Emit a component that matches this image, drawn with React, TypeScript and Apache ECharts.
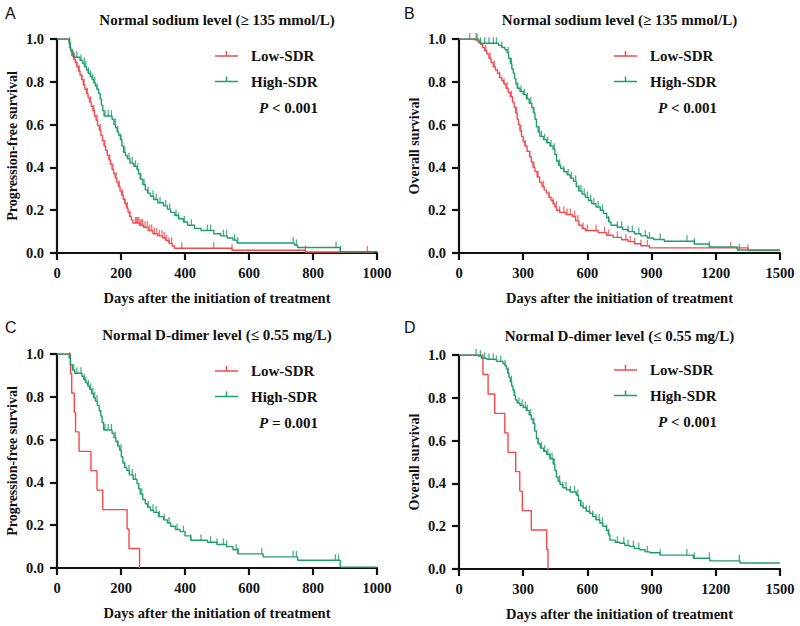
import React, { useEffect, useRef } from "react";
import * as echarts from "echarts";

// ---------- data ----------
const titles = [
  "Normal sodium level (≥ 135 mmol/L)",
  "Normal sodium level (≥ 135 mmol/L)",
  "Normal D-dimer level (≤ 0.55 mg/L)",
  "Normal D-dimer level (≤ 0.55 mg/L)",
];
const panelLetters = ["A", "B", "C", "D"];
const yNames = ["Progression-free survival", "Overall survival", "Progression-free survival", "Overall survival"];
const xName = "Days after the initiation of treatment";
const xMaxes = [1000, 1500, 1000, 1500];
const xIntervals = [200, 300, 200, 300];
const pTexts = ["< 0.001", "< 0.001", "= 0.001", "< 0.001"];
const groupNames = ["Low-SDR", "High-SDR"];

const aLow: number[][] = [
  [0, 1], [38, 0.99], [40, 0.96], [43, 0.94], [47, 0.92], [52, 0.905], [57, 0.89], [62, 0.87], [67, 0.85],
  [72, 0.83], [77, 0.81], [82, 0.785], [87, 0.765], [92, 0.745], [97, 0.725], [102, 0.705], [107, 0.685],
  [112, 0.665], [117, 0.64], [122, 0.62], [127, 0.595], [132, 0.575], [137, 0.55], [142, 0.525], [147, 0.5],
  [152, 0.48], [157, 0.455], [162, 0.435], [167, 0.415], [172, 0.39], [177, 0.37], [182, 0.35], [187, 0.33],
  [192, 0.31], [197, 0.29], [202, 0.27], [207, 0.25], [212, 0.23], [217, 0.21], [222, 0.19], [227, 0.17],
  [232, 0.155], [237, 0.14], [258, 0.13], [270, 0.12], [285, 0.105], [300, 0.09], [315, 0.08], [330, 0.07],
  [340, 0.058], [350, 0.045], [360, 0.033], [367, 0.022], [547, 0.013], [776, 0.005], [990, 0.005],
];
const aHigh: number[][] = [
  [0, 1], [38, 0.98], [42, 0.95], [48, 0.93], [52, 0.915], [72, 0.9], [80, 0.885], [86, 0.87], [92, 0.855],
  [98, 0.84], [104, 0.825], [110, 0.81], [115, 0.795], [120, 0.78], [125, 0.765], [130, 0.745], [135, 0.72],
  [139, 0.69], [143, 0.665], [147, 0.64], [172, 0.625], [178, 0.6], [183, 0.585], [188, 0.565], [193, 0.55],
  [198, 0.53], [203, 0.5], [208, 0.47], [214, 0.455], [220, 0.44], [228, 0.42], [240, 0.405], [250, 0.39],
  [255, 0.37], [260, 0.345], [268, 0.32], [276, 0.295], [283, 0.28], [292, 0.265], [302, 0.25], [315, 0.235],
  [333, 0.22], [345, 0.205], [355, 0.19], [368, 0.175], [380, 0.16], [395, 0.145], [408, 0.13], [430, 0.115],
  [450, 0.105], [490, 0.09], [512, 0.08], [532, 0.07], [550, 0.06], [563, 0.047], [742, 0.036], [752, 0.026],
  [885, 0.006], [1000, 0.006],
];
const aLowCens = [40, 47, 55, 62, 70, 78, 85, 95, 105, 115, 125, 135, 150, 165, 175, 185, 195, 205, 212, 220, 228,
  245, 248, 252, 256, 260, 264, 268, 275, 282, 290, 296, 305, 312, 320, 328, 335, 342, 350, 358, 390, 490, 547, 776, 970];
const aHighCens = [40, 52, 62, 75, 85, 90, 98, 105, 112, 118, 125, 150, 160, 170, 182, 190, 200, 212, 225, 235, 245,
  252, 262, 272, 285, 300, 310, 322, 340, 352, 372, 380, 398, 420, 470, 480, 520, 530, 555, 565, 738, 748, 872, 886];

const bLow: number[][] = [
  [0, 1], [75, 0.995], [90, 0.985], [100, 0.975], [110, 0.96], [120, 0.945], [130, 0.93], [140, 0.91], [150, 0.89],
  [160, 0.87], [170, 0.855], [180, 0.84], [190, 0.82], [200, 0.805], [210, 0.79], [220, 0.77], [230, 0.75],
  [240, 0.73], [250, 0.705], [258, 0.68], [265, 0.655], [272, 0.625], [278, 0.6], [285, 0.57], [292, 0.545],
  [300, 0.52], [308, 0.5], [318, 0.475], [330, 0.45], [338, 0.425], [346, 0.4], [355, 0.38], [365, 0.355],
  [377, 0.33], [388, 0.31], [398, 0.295], [408, 0.28], [420, 0.26], [430, 0.245], [440, 0.23], [448, 0.215],
  [456, 0.2], [470, 0.19], [500, 0.18], [530, 0.17], [545, 0.15], [560, 0.13], [575, 0.115], [590, 0.105],
  [650, 0.095], [690, 0.083], [720, 0.073], [760, 0.062], [790, 0.053], [820, 0.043], [850, 0.034], [890, 0.024],
  [1350, 0.012], [1500, 0.012],
];
const bHigh: number[][] = [
  [0, 1], [90, 0.99], [100, 0.98], [185, 0.97], [200, 0.96], [215, 0.95], [225, 0.935], [232, 0.91], [240, 0.885],
  [247, 0.86], [254, 0.84], [260, 0.815], [266, 0.79], [272, 0.77], [285, 0.755], [300, 0.74], [315, 0.72],
  [328, 0.7], [340, 0.68], [348, 0.655], [355, 0.625], [362, 0.59], [370, 0.565], [378, 0.545], [395, 0.53],
  [410, 0.515], [425, 0.5], [440, 0.485], [448, 0.46], [456, 0.43], [465, 0.41], [475, 0.395], [490, 0.38],
  [505, 0.365], [520, 0.35], [535, 0.335], [548, 0.31], [560, 0.29], [575, 0.275], [590, 0.26], [605, 0.245],
  [620, 0.23], [640, 0.215], [660, 0.2], [675, 0.185], [690, 0.165], [700, 0.145], [710, 0.13], [740, 0.12],
  [765, 0.11], [790, 0.1], [820, 0.09], [850, 0.08], [880, 0.07], [910, 0.063], [960, 0.055], [1100, 0.042],
  [1170, 0.028], [1300, 0.014], [1500, 0.014],
];
const bLowCens = [50, 85, 100, 125, 145, 165, 190, 210, 225, 245, 270, 290, 310, 330, 350, 370, 395, 420, 440, 455,
  470, 490, 505, 520, 540, 555, 580, 600, 640, 680, 700, 740, 780, 800, 820, 850, 880, 1270, 1350];
const bHighCens = [80, 100, 120, 140, 160, 175, 200, 230, 245, 275, 290, 305, 320, 335, 350, 375, 385, 400, 415, 430,
  445, 470, 490, 510, 525, 545, 560, 570, 585, 600, 615, 630, 650, 670, 700, 740, 760, 790, 810, 840, 870, 890, 940,
  1065, 1100, 1170, 1310];

const cLow: number[][] = [
  [0, 1], [42, 0.909], [46, 0.818], [54, 0.727], [58, 0.636], [69, 0.545], [106, 0.455], [125, 0.364],
  [143, 0.273], [219, 0.182], [225, 0.091], [258, 0],
];
const cHigh: number[][] = [
  [0, 1], [38, 0.98], [42, 0.95], [48, 0.925], [55, 0.91], [78, 0.895], [84, 0.88], [90, 0.865], [96, 0.85],
  [102, 0.835], [108, 0.815], [114, 0.795], [120, 0.78], [126, 0.76], [132, 0.735], [137, 0.71], [141, 0.68],
  [146, 0.645], [172, 0.63], [178, 0.61], [184, 0.59], [190, 0.57], [196, 0.55], [201, 0.52], [206, 0.49],
  [211, 0.47], [218, 0.455], [226, 0.435], [238, 0.415], [250, 0.395], [255, 0.37], [260, 0.345], [268, 0.32],
  [276, 0.3], [283, 0.285], [292, 0.27], [302, 0.26], [318, 0.24], [333, 0.225], [345, 0.21], [355, 0.195],
  [370, 0.18], [385, 0.17], [400, 0.15], [418, 0.13], [470, 0.12], [500, 0.11], [530, 0.1], [550, 0.085],
  [565, 0.066], [644, 0.052], [752, 0.036], [885, 0.004], [1000, 0.004],
];
const cLowCens: number[] = [];
const cHighCens = [40, 52, 62, 75, 85, 90, 98, 105, 112, 118, 125, 150, 160, 170, 182, 190, 200, 212, 225, 235, 245,
  255, 265, 285, 300, 310, 320, 335, 350, 375, 395, 418, 450, 480, 500, 520, 530, 560, 566, 640, 738, 748, 870, 880];

const dLow: number[][] = [
  [0, 1], [112, 0.909], [136, 0.818], [167, 0.727], [214, 0.636], [229, 0.545], [265, 0.455], [284, 0.364],
  [296, 0.273], [338, 0.182], [410, 0.091], [416, 0],
];
const dHigh: number[][] = [
  [0, 1], [90, 0.995], [105, 0.985], [130, 0.98], [175, 0.97], [205, 0.96], [215, 0.95], [222, 0.935],
  [228, 0.915], [234, 0.895], [240, 0.875], [246, 0.855], [252, 0.835], [258, 0.81], [264, 0.79], [272, 0.775],
  [285, 0.765], [300, 0.755], [315, 0.74], [328, 0.72], [338, 0.7], [346, 0.68], [354, 0.645], [362, 0.61],
  [370, 0.585], [380, 0.565], [395, 0.55], [410, 0.535], [425, 0.515], [440, 0.49], [448, 0.46], [455, 0.43],
  [463, 0.41], [472, 0.395], [485, 0.38], [502, 0.37], [520, 0.36], [548, 0.345], [558, 0.32], [568, 0.295],
  [580, 0.285], [595, 0.27], [611, 0.26], [625, 0.245], [640, 0.23], [658, 0.215], [672, 0.2], [689, 0.18],
  [698, 0.16], [705, 0.135], [730, 0.125], [752, 0.12], [775, 0.11], [798, 0.105], [820, 0.095], [845, 0.09],
  [870, 0.08], [892, 0.076], [939, 0.065], [1095, 0.05], [1172, 0.038], [1313, 0.028], [1500, 0.028],
];
const dLowCens: number[] = [];
const dHighCens = [80, 100, 120, 140, 160, 175, 195, 215, 230, 245, 260, 280, 295, 310, 320, 335, 350, 370, 385,
  400, 415, 425, 435, 445, 470, 485, 500, 520, 540, 555, 570, 580, 595, 610, 625, 640, 655, 670, 690, 700, 740, 770,
  790, 815, 840, 880, 940, 1065, 1100, 1170, 1310];

const lowCurves = [aLow, bLow, cLow, dLow];
const highCurves = [aHigh, bHigh, cHigh, dHigh];
const lowCensors = [aLowCens, bLowCens, cLowCens, dLowCens];
const highCensors = [aHighCens, bHighCens, cHighCens, dHighCens];

// ---------- layout / style ----------
const RED = "#F5484C";
const GREEN = "#1F9E6C";
const SERIF = '"Times New Roman", "Liberation Serif", serif';
const SANS = '"Liberation Sans", Arial, sans-serif';
const grids = [
  { left: 57, top: 39, width: 320, height: 214 },
  { left: 459, top: 39, width: 321, height: 214 },
  { left: 57, top: 354, width: 320, height: 214 },
  { left: 459, top: 355, width: 321, height: 214 },
];
const legendPos = [
  { x: 215, y: 56 },
  { x: 614, y: 56 },
  { x: 215, y: 371 },
  { x: 614, y: 370 },
];
const letterPos = [
  { x: 5, y: 5 },
  { x: 404, y: 5 },
  { x: 5, y: 319 },
  { x: 404, y: 319 },
];

function stepAt(curve: number[][], t: number): number {
  let v = curve[0][1];
  for (const p of curve) {
    if (p[0] <= t) v = p[1];
    else break;
  }
  return v;
}

function buildOption() {
  const xAxis: any[] = [];
  const yAxis: any[] = [];
  const series: any[] = [];
  const graphic: any[] = [];

  grids.forEach((g, i) => {
    xAxis.push({
      gridIndex: i,
      type: "value",
      min: 0,
      max: xMaxes[i],
      interval: xIntervals[i],
      axisLine: { lineStyle: { color: "#111", width: 2.2 } },
      axisTick: { length: 7, lineStyle: { color: "#111", width: 2.2 } },
      splitLine: { show: false },
      axisLabel: {
        color: "#111", fontFamily: SERIF, fontWeight: "bold", fontSize: 14.5, margin: 12,
        formatter: (v: number) => String(v),
      },
      name: xName,
      nameLocation: "middle",
      nameGap: 37,
      nameTextStyle: { color: "#111", fontFamily: SERIF, fontWeight: "bold", fontSize: 14.5 },
    });
    yAxis.push({
      gridIndex: i,
      type: "value",
      min: 0,
      max: 1,
      interval: 0.2,
      axisLine: { show: true, lineStyle: { color: "#111", width: 2.2 } },
      axisTick: { show: true, length: 7, lineStyle: { color: "#111", width: 2.2 } },
      splitLine: { show: false },
      axisLabel: {
        color: "#111", fontFamily: SERIF, fontWeight: "bold", fontSize: 14.5, margin: 13,
        formatter: (v: number) => v.toFixed(1),
      },
      name: yNames[i],
      nameLocation: "middle",
      nameGap: 38,
      nameTextStyle: { color: "#111", fontFamily: SERIF, fontWeight: "bold", fontSize: 14 },
    });

    const curves = [lowCurves[i], highCurves[i]];
    const cens = [lowCensors[i], highCensors[i]];
    const colors = [RED, GREEN];
    curves.forEach((c, k) => {
      series.push({
        type: "line",
        xAxisIndex: i,
        yAxisIndex: i,
        step: "end",
        symbol: "none",
        data: c,
        lineStyle: { color: colors[k], width: 1.4 },
        z: 3 + k,
      });
      series.push({
        type: "scatter",
        xAxisIndex: i,
        yAxisIndex: i,
        symbol: "rect",
        symbolSize: [1.3, 6],
        symbolOffset: [0, -3],
        itemStyle: { color: colors[k] },
        data: cens[k].map((t) => [t, stepAt(c, t)]),
        z: 3 + k,
      });
    });

    // title
    graphic.push({
      type: "text",
      x: g.left + g.width / 2,
      y: g.top - 19,
      style: {
        text: titles[i],
        font: `bold 15px ${SERIF}`,
        fill: "#111",
        textAlign: "center",
        textVerticalAlign: "middle",
      },
    });
    // panel letter
    graphic.push({
      type: "text",
      x: letterPos[i].x,
      y: letterPos[i].y,
      style: { text: panelLetters[i], font: `16px ${SANS}`, fill: "#111" },
    });
    // legend
    const lp = legendPos[i];
    [0, 1].forEach((k) => {
      const yy = lp.y + k * 25.5;
      graphic.push({
        type: "line",
        shape: { x1: lp.x, y1: yy, x2: lp.x + 23, y2: yy },
        style: { stroke: colors[k], lineWidth: 1.5 },
      });
      graphic.push({
        type: "line",
        shape: { x1: lp.x + 11.5, y1: yy, x2: lp.x + 11.5, y2: yy - 5 },
        style: { stroke: colors[k], lineWidth: 1.5 },
      });
      graphic.push({
        type: "text",
        x: lp.x + 36,
        y: yy,
        style: {
          text: groupNames[k],
          font: `bold 15px ${SERIF}`,
          fill: "#111",
          textVerticalAlign: "middle",
        },
      });
    });
    graphic.push({
      type: "text",
      x: lp.x + 44,
      y: lp.y + 52,
      style: {
        text: "{i|P} " + pTexts[i],
        font: `bold 15px ${SERIF}`,
        fill: "#111",
        textVerticalAlign: "middle",
        rich: {
          i: { fontStyle: "italic", fontWeight: "bold", fontSize: 15, fontFamily: SERIF, fill: "#111" },
        },
      },
    });
  });

  return {
    animation: false,
    backgroundColor: "#fff",
    grid: grids.map((g) => ({ ...g, containLabel: false })),
    xAxis,
    yAxis,
    series,
    graphic,
  };
}

export default function App() {
  const ref = useRef<HTMLDivElement>(null);
  useEffect(() => {
    if (!ref.current) return;
    const chart = echarts.init(ref.current, undefined, { renderer: "svg" });
    chart.setOption(buildOption() as any);
    return () => chart.dispose();
  }, []);
  return (
    <div
      ref={ref}
      style={{ position: "fixed", left: 0, top: 0, width: 800, height: 626, background: "#fff" }}
    />
  );
}
